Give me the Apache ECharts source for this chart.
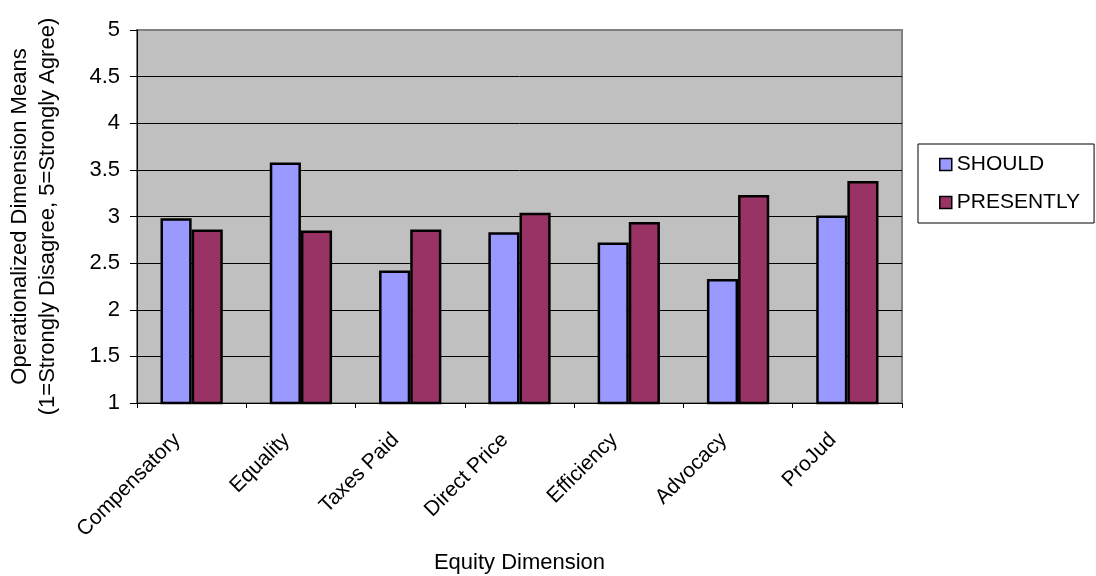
<!DOCTYPE html>
<html>
<head>
<meta charset="utf-8">
<title>Equity Dimension Means</title>
<script src="https://cdn.jsdelivr.net/npm/echarts@6/dist/echarts.min.js"></script>
<style>
  html, body { margin: 0; padding: 0; background: #ffffff; }
  #chart { width: 1096px; height: 576px; }
</style>
</head>
<body>
<div id="chart"></div>
<script>
// Equity dimensions on the category axis
const categories = ['Compensatory', 'Equality', 'Taxes Paid', 'Direct Price', 'Efficiency', 'Advocacy', 'ProJud'];
// Operationalized dimension means (1 = strongly disagree, 5 = strongly agree)
const shouldValues = [2.98, 3.58, 2.42, 2.83, 2.72, 2.33, 3.01];
const presentlyValues = [2.86, 2.85, 2.86, 3.04, 2.94, 3.23, 3.38];
const seriesNames = ['SHOULD', 'PRESENTLY'];
// Value axis range and step
const yMin = 1;
const yMax = 5;
const yStep = 0.5;

const FONT = '"Liberation Sans", Arial, sans-serif';

const chart = echarts.init(document.getElementById('chart'), null, { renderer: 'canvas' });

chart.setOption({
  backgroundColor: '#ffffff',
  animation: false,
  textStyle: { fontFamily: FONT, color: '#000' },
  grid: {
    left: 137,
    top: 30,
    right: 194,
    bottom: 173,
    outerBoundsMode: 'none',
    containLabel: false,
    show: true,
    backgroundColor: '#C0C0C0',
    borderColor: '#808080',
    borderWidth: 2
  },
  legend: {
    orient: 'vertical',
    left: 918,
    top: 144,
    padding: [10, 14, 10, 21],
    itemGap: 17,
    itemWidth: 12,
    itemHeight: 12,
    borderColor: '#000',
    borderWidth: 1,
    icon: 'rect',
    itemStyle: { borderColor: '#000', borderWidth: 1.5 },
    textStyle: { fontFamily: FONT, fontSize: 21, color: '#000' },
    data: seriesNames
  },
  xAxis: {
    type: 'category',
    data: categories,
    name: 'Equity Dimension',
    nameLocation: 'middle',
    nameGap: 149,
    nameTextStyle: { fontFamily: FONT, fontSize: 22, color: '#000' },
    axisLine: { lineStyle: { color: '#000', width: 1 } },
    axisTick: { show: true, length: 5, lineStyle: { color: '#000' } },
    axisLabel: {
      rotate: 45,
      interval: 0,
      margin: 34,
      padding: [0, 10, 0, 0],
      verticalAlign: 'bottom',
      fontFamily: FONT,
      fontSize: 21,
      color: '#000'
    },
    splitLine: { show: false }
  },
  yAxis: {
    type: 'value',
    min: yMin,
    max: yMax,
    interval: yStep,
    name: 'Operationalized Dimension Means\n(1=Strongly Disagree, 5=Strongly Agree)',
    nameLocation: 'middle',
    nameRotate: 90,
    nameGap: 75,
    nameTextStyle: { fontFamily: FONT, fontSize: 22, lineHeight: 28, color: '#000', align: 'center' },
    axisLine: { show: true, lineStyle: { color: '#000', width: 1 } },
    axisTick: { show: true, length: 7, lineStyle: { color: '#000' } },
    axisLabel: { margin: 17, fontFamily: FONT, fontSize: 22, color: '#000' },
    splitLine: {
      show: true,
      showMaxLine: false,
      lineStyle: { color: '#000', width: 1 }
    }
  },
  series: [
    {
      name: seriesNames[0],
      type: 'bar',
      data: shouldValues,
      barGap: '0%',
      barCategoryGap: '43%',
      itemStyle: { color: '#9999FF', borderColor: '#000', borderWidth: 2.5 }
    },
    {
      name: seriesNames[1],
      type: 'bar',
      data: presentlyValues,
      barGap: '0%',
      barCategoryGap: '43%',
      itemStyle: { color: '#993366', borderColor: '#000', borderWidth: 2.5 }
    }
  ]
});
</script>
</body>
</html>
